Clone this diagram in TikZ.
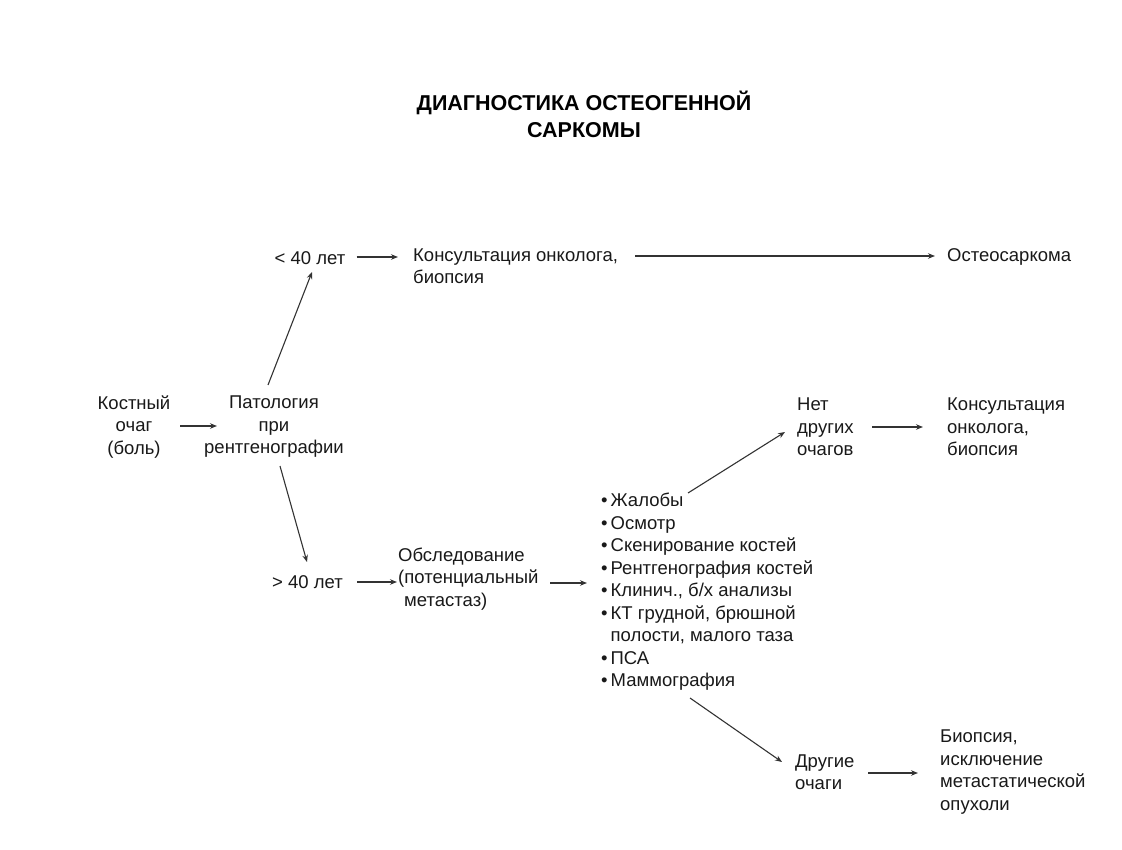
\documentclass[tikz,border=0pt]{standalone}
\usepackage{fontspec}
\setmainfont{Liberation Sans}
\usetikzlibrary{arrows.meta,calc}
\begin{document}
\begin{tikzpicture}[x=1pt,y=-1pt,
  txt/.style={inner sep=0pt,text=black!90,font=\fontsize{18.5}{22.5}\selectfont},
  arr/.style={draw=black!80,line width=1.1pt,-{Stealth[length=7pt,width=5.5pt]}}]
\fill[white] (0,0) rectangle (1122,850);
\useasboundingbox (0,0) rectangle (1122,850);
\node[inner sep=0pt,align=center,font=\fontsize{21.5}{27}\selectfont\bfseries] (title) at (584,114) {ДИАГНОСТИКА ОСТЕОГЕННОЙ\\САРКОМЫ};
\node[txt,align=center] (kost) at (134,427) {Костный\\очаг\\(боль)};
\node[txt,align=center] (pat) at (274,427) {Патология\\при\\рентгенографии};
\node[txt] (lt40) at (310,258) {< 40 лет};
\node[txt,align=left,anchor=west] (kons1) at (413,266) {Консультация онколога,\\биопсия};
\node[txt,anchor=west] (osteo) at (947,257) {Остеосаркома};
\node[txt,anchor=west] (gt40) at (272,582) {> 40 лет};
\node[txt,align=left,anchor=west] (obsl) at (398,579) {Обследование\\(потенциальный\\\hspace*{6pt}метастаз)};
\node[txt,align=left,anchor=west] (list) at (601,592) {%
\makebox[9.5pt][l]{•}Жалобы\\
\makebox[9.5pt][l]{•}Осмотр\\
\makebox[9.5pt][l]{•}Скенирование костей\\
\makebox[9.5pt][l]{•}Рентгенография костей\\
\makebox[9.5pt][l]{•}Клинич., б/х анализы\\
\makebox[9.5pt][l]{•}КТ грудной, брюшной\\
\hspace*{9.5pt}полости, малого таза\\
\makebox[9.5pt][l]{•}ПСА\\
\makebox[9.5pt][l]{•}Маммография};
\node[txt,align=left,anchor=west] (net) at (797,427) {Нет\\других\\очагов};
\node[txt,align=left,anchor=west] (kons2) at (947,427) {Консультация\\онколога,\\биопсия};
\node[txt,align=left,anchor=west] (dr) at (795,772) {Другие\\очаги};
\node[txt,align=left,anchor=west] (biop) at (940,772) {Биопсия,\\исключение\\метастатической\\опухоли};
% connectors
\draw[arr] ($(kost.center)+(46,-1)$) -- ($(pat.center)+(-57,-1)$);
\draw[arr] ($(pat.center)+(-6,-42)$) -- ($(lt40.center)+(2,14)$);
\draw[arr] ($(pat.center)+(6,39)$) -- ($(gt40.west)+(35,-20)$);
\draw[arr] ($(lt40.east)+(11,-1)$) -- ($(kons1.west)+(-15,-9)$);
\draw[arr] ($(kons1.east)+(17,-10)$) -- ($(osteo.west)+(-12,-1)$);
\draw[arr] ($(gt40.east)+(14,0)$) -- ($(obsl.west)+(-1,3)$);
\draw[arr] ($(obsl.west)+(152,4)$) -- ($(list.west)+(-14,-9)$);
\draw[arr] ($(list.west)+(87,-99)$) -- ($(net.west)+(-12,5)$);
\draw[arr] ($(net.west)+(75,0)$) -- ($(kons2.west)+(-24,0)$);
\draw[arr] ($(list.west)+(89,106)$) -- ($(dr.west)+(-13,-10)$);
\draw[arr] ($(dr.west)+(73,1)$) -- ($(biop.west)+(-22,1)$);
\end{tikzpicture}
\end{document}
